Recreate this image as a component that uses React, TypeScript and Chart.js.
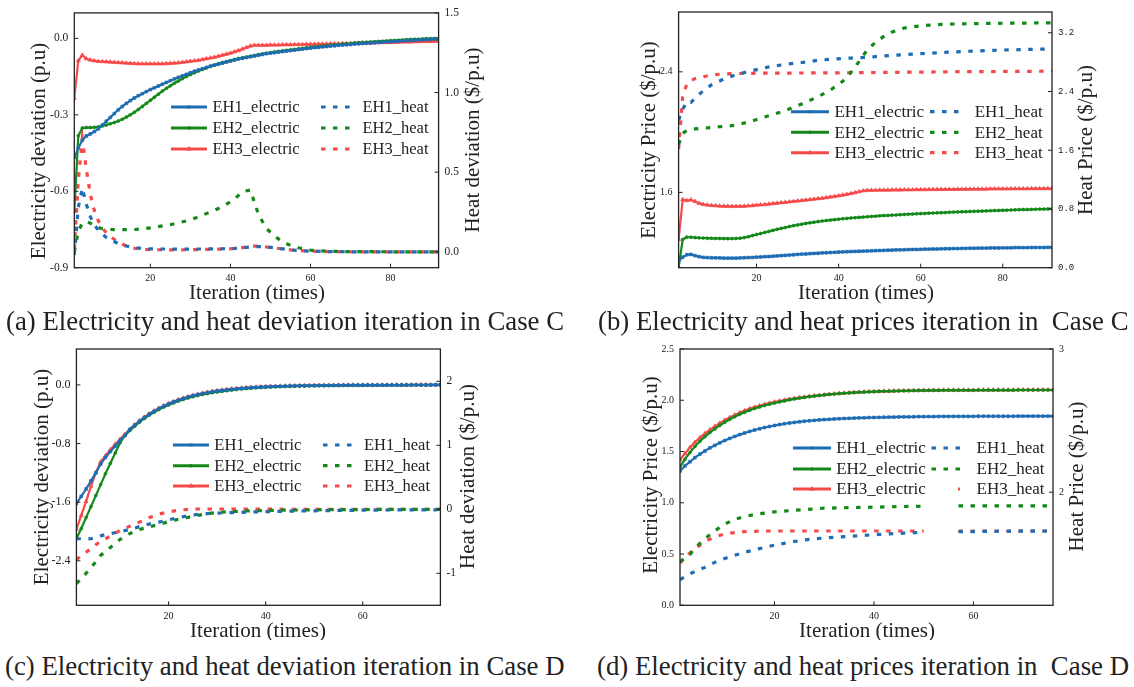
import React, { useEffect, useRef } from 'react';
import { Chart, registerables } from 'chart.js';
Chart.register(...registerables);

// ---------------- categories / ticks ----------------
const ITER_92 = Array.from({ length: 92 }, (_, i) => i + 1);
const ITER_76 = Array.from({ length: 76 }, (_, i) => i + 1);
const X_TICKS_92 = [20, 40, 60, 80];
const X_TICKS_76 = [20, 40, 60];

const A_LEFT_TICKS = [-0.9, -0.6, -0.3, 0.0];
const A_RIGHT_TICKS = [0.0, 0.5, 1.0, 1.5];
const B_LEFT_TICKS = [1.6, 2.4];
const B_RIGHT_TICKS = [0.0, 0.8, 1.6, 2.4, 3.2];
const C_LEFT_TICKS = [-2.4, -1.6, -0.8, 0.0];
const C_RIGHT_TICKS = [-1, 0, 1, 2];
const D_LEFT_TICKS = [0.0, 0.5, 1.0, 1.5, 2.0, 2.5];
const D_RIGHT_TICKS = [2, 3];

const SERIES_NAMES = ['EH1_electric', 'EH2_electric', 'EH3_electric', 'EH1_heat', 'EH2_heat', 'EH3_heat'];

// ---------------- (a) Case C deviation ----------------
const A_EH1_ELEC = [-0.468,-0.43,-0.40,-0.383,-0.375,-0.366,-0.355,-0.34,-0.325,-0.31,
-0.295,-0.28,-0.267,-0.255,-0.244,-0.234,-0.225,-0.217,-0.209,-0.201,
-0.194,-0.187,-0.18,-0.173,-0.166,-0.159,-0.153,-0.147,-0.141,-0.135,
-0.129,-0.124,-0.119,-0.114,-0.109,-0.105,-0.101,-0.097,-0.093,-0.089,
-0.085,-0.081,-0.078,-0.075,-0.072,-0.069,-0.066,-0.063,-0.06,-0.058,
-0.056,-0.054,-0.052,-0.05,-0.048,-0.046,-0.044,-0.042,-0.04,-0.038,
-0.036,-0.035,-0.033,-0.032,-0.03,-0.029,-0.027,-0.026,-0.025,-0.024,
-0.022,-0.021,-0.02,-0.019,-0.018,-0.017,-0.016,-0.015,-0.014,-0.013,
-0.012,-0.011,-0.01,-0.009,-0.008,-0.007,-0.006,-0.006,-0.005,-0.004,
-0.003,-0.003];
const A_EH2_ELEC = [-0.68,-0.382,-0.352,-0.35,-0.35,-0.349,-0.347,-0.344,-0.34,-0.335,
-0.33,-0.324,-0.317,-0.309,-0.3,-0.29,-0.279,-0.267,-0.255,-0.243,
-0.231,-0.219,-0.207,-0.196,-0.186,-0.176,-0.167,-0.158,-0.15,-0.142,
-0.135,-0.128,-0.122,-0.116,-0.11,-0.105,-0.1,-0.095,-0.091,-0.087,
-0.083,-0.079,-0.076,-0.073,-0.07,-0.067,-0.064,-0.061,-0.058,-0.056,
-0.053,-0.051,-0.049,-0.047,-0.045,-0.043,-0.041,-0.039,-0.037,-0.035,
-0.033,-0.032,-0.03,-0.028,-0.027,-0.025,-0.024,-0.022,-0.021,-0.02,
-0.018,-0.017,-0.016,-0.015,-0.014,-0.013,-0.012,-0.011,-0.01,-0.009,
-0.008,-0.007,-0.006,-0.005,-0.004,-0.003,-0.003,-0.002,-0.001,-0.001,
0.0,0.0];
const A_EH3_ELEC = [-0.235,-0.087,-0.066,-0.08,-0.085,-0.088,-0.09,-0.091,-0.092,-0.093,
-0.094,-0.095,-0.096,-0.097,-0.098,-0.099,-0.1,-0.1,-0.1,-0.1,
-0.1,-0.1,-0.1,-0.099,-0.098,-0.097,-0.096,-0.094,-0.092,-0.09,
-0.088,-0.086,-0.083,-0.08,-0.077,-0.074,-0.07,-0.066,-0.062,-0.058,
-0.053,-0.048,-0.042,-0.036,-0.03,-0.027,-0.027,-0.027,-0.027,-0.026,
-0.026,-0.026,-0.025,-0.025,-0.025,-0.024,-0.024,-0.024,-0.023,-0.023,
-0.023,-0.022,-0.022,-0.022,-0.021,-0.021,-0.021,-0.02,-0.02,-0.02,
-0.019,-0.019,-0.018,-0.018,-0.018,-0.017,-0.017,-0.016,-0.016,-0.016,
-0.015,-0.015,-0.014,-0.014,-0.014,-0.013,-0.013,-0.012,-0.012,-0.012,
-0.011,-0.011];
const A_HEAT_X = [1,2,3,4,5,6,7,8,9,10,12,14,16,18,20,25,30,35,38,41,43,45,46,47,49,51,53,55,57,60,65,70,80,92];
const A_EH1_HEAT = [-0.02,0.28,0.40,0.30,0.22,0.17,0.135,0.11,0.09,0.075,0.052,0.036,0.026,0.02,0.018,0.017,0.017,0.018,0.019,0.021,0.025,0.03,0.032,0.033,0.03,0.025,0.018,0.012,0.008,0.004,0.001,0.0,0.0,0.0];
const A_EH2_HEAT = [0.0,0.13,0.18,0.19,0.18,0.165,0.152,0.145,0.142,0.14,0.139,0.139,0.14,0.143,0.15,0.17,0.2,0.25,0.283,0.33,0.378,0.388,0.31,0.235,0.145,0.1,0.062,0.04,0.025,0.01,0.003,0.001,0.0,0.0];
const A_EH3_HEAT = [0.02,0.45,0.71,0.52,0.36,0.26,0.195,0.15,0.12,0.095,0.06,0.036,0.022,0.015,0.013,0.012,0.013,0.015,0.017,0.02,0.026,0.033,0.036,0.035,0.03,0.024,0.018,0.012,0.008,0.004,0.001,0.0,0.0,0.0];

// ---------------- (b) Case C prices ----------------
const B_EH1_ELEC = [1.144,1.17,1.186,1.188,1.18,1.173,1.169,1.167,1.166,1.165,
1.165,1.164,1.164,1.164,1.164,1.165,1.166,1.167,1.168,1.17,
1.171,1.173,1.174,1.176,1.178,1.18,1.182,1.184,1.186,1.188,
1.19,1.191,1.193,1.195,1.196,1.198,1.199,1.201,1.202,1.204,
1.205,1.206,1.207,1.208,1.209,1.21,1.211,1.212,1.213,1.214,
1.215,1.216,1.217,1.218,1.218,1.219,1.22,1.221,1.221,1.222,
1.223,1.223,1.224,1.224,1.225,1.226,1.226,1.227,1.227,1.228,
1.228,1.229,1.229,1.23,1.23,1.23,1.231,1.231,1.231,1.232,
1.232,1.232,1.233,1.233,1.233,1.233,1.234,1.234,1.234,1.234,
1.235,1.235];
const B_EH2_ELEC = [1.10,1.287,1.303,1.302,1.3,1.298,1.297,1.296,1.295,1.294,
1.294,1.293,1.293,1.293,1.294,1.296,1.3,1.306,1.313,1.32,
1.327,1.334,1.341,1.348,1.355,1.361,1.367,1.373,1.379,1.384,
1.389,1.394,1.398,1.402,1.406,1.41,1.413,1.416,1.419,1.422,
1.425,1.427,1.43,1.432,1.434,1.436,1.438,1.44,1.442,1.444,
1.446,1.447,1.449,1.45,1.452,1.453,1.455,1.456,1.458,1.459,
1.46,1.462,1.463,1.464,1.465,1.466,1.468,1.469,1.47,1.471,
1.472,1.473,1.474,1.475,1.476,1.477,1.478,1.479,1.48,1.481,
1.482,1.483,1.484,1.485,1.486,1.486,1.487,1.488,1.489,1.489,
1.49,1.49];
const B_EH3_ELEC = [1.287,1.552,1.545,1.55,1.54,1.527,1.52,1.516,1.513,1.511,
1.509,1.508,1.507,1.507,1.507,1.507,1.508,1.51,1.512,1.515,
1.517,1.519,1.522,1.525,1.528,1.531,1.534,1.537,1.54,1.543,
1.546,1.549,1.552,1.555,1.558,1.561,1.565,1.569,1.573,1.577,
1.582,1.587,1.592,1.598,1.604,1.61,1.613,1.614,1.614,1.615,
1.615,1.615,1.616,1.616,1.616,1.617,1.617,1.617,1.618,1.618,
1.618,1.619,1.619,1.619,1.62,1.62,1.62,1.62,1.621,1.621,
1.621,1.621,1.622,1.622,1.622,1.622,1.623,1.623,1.623,1.623,
1.623,1.624,1.624,1.624,1.624,1.624,1.625,1.625,1.625,1.625,
1.625,1.625];
const B_HEAT_X = [1,2,3,4,5,7,9,12,15,19,23,27,31,35,38,41,43,45,47,49,51,53,56,60,65,70,80,92];
const B_EH1_HEAT = [2.01,2.16,2.26,2.25,2.31,2.41,2.49,2.57,2.63,2.685,2.735,2.77,2.795,2.825,2.84,2.85,2.855,2.86,2.868,2.876,2.884,2.892,2.903,2.915,2.93,2.945,2.965,2.98];
const B_EH2_HEAT = [1.68,1.83,1.87,1.885,1.89,1.9,1.91,1.925,1.94,2.0,2.07,2.14,2.23,2.33,2.42,2.54,2.66,2.81,2.97,3.07,3.15,3.21,3.265,3.295,3.315,3.322,3.33,3.335];
const B_EH3_HEAT = [1.62,2.33,2.5,2.55,2.575,2.6,2.625,2.64,2.645,2.648,2.65,2.651,2.652,2.653,2.654,2.655,2.656,2.657,2.658,2.659,2.66,2.661,2.663,2.665,2.667,2.67,2.673,2.677];

// ---------------- (c) Case D deviation ----------------
const C_EH1_ELEC = [-1.62,-1.52,-1.42,-1.31,-1.2,-1.08,-0.99,-0.91,-0.835,-0.76,-0.69,
-0.61,-0.55,-0.495,-0.445,-0.40,-0.36,-0.323,-0.29,-0.26,-0.233,-0.208,-0.186,-0.166,-0.148,-0.132,-0.118,-0.105,-0.093,-0.083,
-0.075,-0.067,-0.06,-0.053,-0.047,-0.042,-0.037,-0.033,-0.029,-0.026,
-0.023,-0.021,-0.019,-0.017,-0.015,-0.013,-0.012,-0.011,-0.01,-0.009,
-0.008,-0.007,-0.006,-0.006,-0.005,-0.005,-0.004,-0.004,-0.004,-0.003,
-0.003,-0.003,-0.003,-0.002,-0.002,-0.002,-0.002,-0.002,-0.001,-0.001,
-0.001,-0.001,-0.001,0,0,0];
const C_EH2_ELEC = [-2.1,-1.96,-1.81,-1.66,-1.51,-1.36,-1.21,-1.07,-0.93,-0.79,-0.69,
-0.623,-0.563,-0.508,-0.458,-0.413,-0.373,-0.336,-0.303,-0.273,-0.246,-0.221,-0.199,-0.179,-0.161,-0.145,-0.131,-0.118,-0.106,-0.096,
-0.087,-0.078,-0.07,-0.063,-0.056,-0.05,-0.045,-0.04,-0.036,-0.032,
-0.029,-0.026,-0.023,-0.021,-0.019,-0.017,-0.015,-0.014,-0.013,-0.012,
-0.011,-0.01,-0.009,-0.008,-0.007,-0.007,-0.006,-0.006,-0.005,-0.005,
-0.004,-0.004,-0.004,-0.003,-0.003,-0.003,-0.002,-0.002,-0.002,-0.002,
-0.001,-0.001,-0.001,-0.001,0,0];
const C_EH3_ELEC = [-1.97,-1.78,-1.59,-1.38,-1.2,-1.05,-0.965,-0.885,-0.81,-0.74,-0.675,
-0.605,-0.545,-0.49,-0.44,-0.395,-0.355,-0.318,-0.285,-0.255,-0.228,-0.203,-0.181,-0.161,-0.143,-0.127,-0.113,-0.1,-0.088,-0.078,
-0.07,-0.062,-0.055,-0.049,-0.043,-0.038,-0.034,-0.03,-0.027,-0.024,
-0.021,-0.019,-0.017,-0.015,-0.013,-0.012,-0.011,-0.01,-0.009,-0.008,
-0.007,-0.006,-0.006,-0.005,-0.005,-0.004,-0.004,-0.003,-0.003,-0.003,
-0.002,-0.002,-0.002,-0.002,-0.001,-0.001,-0.001,-0.001,-0.001,0,
0,0,0,0,0,0];
const C_HEAT_X = [1,2,3,4,5,6,7,8,10,12,14,16,18,20,22,24,26,28,30,33,36,40,45,50,55,60,65,70,76];
const C_EH1_HEAT = [-0.46,-0.46,-0.465,-0.46,-0.44,-0.415,-0.395,-0.38,-0.35,-0.315,-0.27,-0.23,-0.2,-0.165,-0.13,-0.1,-0.08,-0.068,-0.06,-0.052,-0.045,-0.036,-0.029,-0.023,-0.018,-0.014,-0.011,-0.009,-0.007];
const C_EH2_HEAT = [-1.16,-1.08,-1.0,-0.91,-0.82,-0.72,-0.655,-0.595,-0.47,-0.38,-0.315,-0.275,-0.237,-0.192,-0.155,-0.125,-0.095,-0.068,-0.05,-0.035,-0.025,-0.018,-0.012,-0.008,-0.005,-0.003,-0.002,-0.001,0.0];
const C_EH3_HEAT = [-0.79,-0.72,-0.67,-0.62,-0.555,-0.5,-0.46,-0.42,-0.33,-0.265,-0.2,-0.13,-0.075,-0.04,-0.015,0.0,0.005,0.005,0.005,0.004,0.003,0.002,0.001,0.0,0.0,0.0,0.0,0.0,0.0];

// ---------------- (d) Case D prices ----------------
const D_EH1_ELEC = [1.31,1.36,1.4,1.44,1.475,1.505,1.535,1.56,1.585,1.607,
1.628,1.647,1.665,1.681,1.696,1.71,1.722,1.734,1.744,1.754,
1.763,1.771,1.778,1.784,1.79,1.795,1.8,1.804,1.808,1.811,
1.814,1.817,1.82,1.822,1.824,1.826,1.828,1.829,1.831,1.832,
1.833,1.834,1.835,1.836,1.837,1.838,1.838,1.839,1.84,1.84,
1.841,1.841,1.842,1.842,1.842,1.843,1.843,1.843,1.843,1.843,
1.844,1.844,1.844,1.844,1.844,1.844,1.844,1.844,1.845,1.845,
1.845,1.845,1.845,1.845,1.845,1.845];
const D_EH2_ELEC = [1.35,1.425,1.49,1.55,1.6,1.645,1.685,1.72,1.755,1.786,
1.814,1.84,1.863,1.884,1.903,1.92,1.935,1.949,1.962,1.973,
1.984,1.994,2.004,2.013,2.021,2.028,2.035,2.041,2.047,2.052,
2.057,2.061,2.065,2.069,2.072,2.075,2.078,2.08,2.082,2.084,
2.086,2.088,2.089,2.09,2.091,2.092,2.093,2.094,2.095,2.096,
2.096,2.097,2.097,2.098,2.098,2.098,2.098,2.098,2.098,2.098,
2.099,2.099,2.099,2.099,2.099,2.099,2.099,2.099,2.1,2.1,
2.1,2.1,2.1,2.1,2.1,2.1];
const D_EH3_ELEC = [1.42,1.48,1.54,1.59,1.635,1.675,1.712,1.745,1.777,1.806,
1.833,1.857,1.879,1.899,1.917,1.933,1.947,1.96,1.972,1.983,
1.993,2.002,2.011,2.019,2.026,2.032,2.038,2.043,2.048,2.053,
2.058,2.062,2.066,2.07,2.073,2.076,2.079,2.081,2.083,2.085,
2.087,2.089,2.09,2.091,2.092,2.093,2.094,2.095,2.096,2.097,
2.097,2.098,2.098,2.099,2.099,2.099,2.099,2.099,2.099,2.099,
2.1,2.1,2.1,2.1,2.1,2.1,2.1,2.1,2.101,2.101,
2.101,2.101,2.101,2.101,2.101,2.101];
const D_HEAT_X = [1,2,3,4,6,8,10,12,14,17,20,23,26,30,35,41,46,50,53,57,65,70,76];
const D_EH1_HEAT = [1.39,1.41,1.43,1.445,1.475,1.51,1.537,1.56,1.58,1.606,1.63,1.65,1.667,1.68,1.692,1.705,1.714,1.72,null,1.724,1.727,1.728,1.729];
const D_EH2_HEAT = [1.515,1.54,1.565,1.61,1.675,1.73,1.778,1.81,1.83,1.85,1.862,1.871,1.878,1.888,1.892,1.896,1.9,1.902,null,1.904,1.905,1.905,1.905];
const D_EH3_HEAT = [1.504,1.545,1.575,1.605,1.655,1.688,1.708,1.718,1.725,1.728,1.729,1.729,1.729,1.729,1.729,1.729,1.729,1.729,null,1.729,1.729,1.729,1.729];

const CAPTIONS = [
  '(a) Electricity and heat deviation iteration in Case C',
  '(b) Electricity and heat prices iteration in  Case C',
  '(c) Electricity and heat deviation iteration in Case D',
  '(d) Electricity and heat prices iteration in  Case D',
];

// ---------------- styling ----------------
const SERIF = '"Liberation Serif", "Times New Roman", serif';
const MONO = '"Liberation Mono", "DejaVu Sans Mono", monospace';
const BLUE = '#1f6db4';
const GREEN = '#14891a';
const RED = '#f54a4a';
const COLORS = [BLUE, GREEN, RED];
const STYLES = ['rect', 'circle', 'triangle'];
const HEAT_DASH = [4.5, 7.5];
const TEXT = '#222';

function elecDs(i: number, xs: number[], ys: number[]) {
  const st = STYLES[i];
  return {
    label: SERIES_NAMES[i],
    data: ys.map((y, k) => ({ x: xs[k], y })),
    yAxisID: 'y',
    borderColor: COLORS[i],
    backgroundColor: COLORS[i],
    borderWidth: 2.2,
    pointStyle: st,
    pointRadius: st === 'triangle' ? 2.4 : st === 'rect' ? 2 : 1.5,
    pointBorderWidth: 0.6,
    pointBackgroundColor: COLORS[i],
    pointBorderColor: COLORS[i],
    tension: 0,
  };
}
function heatDs(i: number, xs: number[], ys: (number | null)[]) {
  return {
    label: SERIES_NAMES[i + 3],
    data: ys.map((y, k) => ({ x: xs[k], y })),
    yAxisID: 'y1',
    borderColor: COLORS[i],
    backgroundColor: COLORS[i],
    borderWidth: 3.2,
    borderDash: HEAT_DASH,
    pointRadius: 0,
    spanGaps: false,
    tension: 0,
  };
}

const f1 = (v: number) => v.toFixed(1);
const fInt = (v: number) => String(Math.round(v));

const PANELS: any[] = [
  {
    X: 0, Y: 0, W: 567, H: 305, L: 74.3, T: 11.7, R: 128.4, B: 37.3,
    xMin: 1, xMax: 92, xTicks: X_TICKS_92,
    yl: { min: -0.9, max: 0.1, ticks: A_LEFT_TICKS, fmt: f1, font: SERIF, size: 11.5 },
    yr: { min: -0.1, max: 1.5, ticks: A_RIGHT_TICKS, fmt: f1, font: SERIF, size: 11.5 },
    titles: { left: ['Electricity deviation (p.u)', 39, 151], right: ['Heat deviation ($/p.u)', 473, 140], bottom: ['Iteration (times)', 257, 293] },
    legend: { rows: [107, 128, 149], eX0: 171, eX1: 207, eTx: 212.5, hX0: 321, hX1: 352, hTx: 362.5, size: 16.5, partial: -1 },
    datasets: [
      elecDs(0, ITER_92, A_EH1_ELEC), elecDs(1, ITER_92, A_EH2_ELEC), elecDs(2, ITER_92, A_EH3_ELEC),
      heatDs(0, A_HEAT_X, A_EH1_HEAT), heatDs(1, A_HEAT_X, A_EH2_HEAT), heatDs(2, A_HEAT_X, A_EH3_HEAT),
    ],
  },
  {
    X: 567, Y: 0, W: 567, H: 305, L: 111.6, T: 11.7, R: 82, B: 37.3,
    xMin: 1, xMax: 92, xTicks: X_TICKS_92,
    yl: { min: 1.1, max: 2.797, ticks: B_LEFT_TICKS, fmt: f1, font: SERIF, size: 10 },
    yr: { min: 0, max: 3.483, ticks: B_RIGHT_TICKS, fmt: f1, font: MONO, size: 9 },
    titles: { left: ['Electricity Price ($/p.u)', 82, 140], right: ['Heat Price ($/p.u)', 519, 140], bottom: ['Iteration (times)', 299, 293] },
    legend: { rows: [111.7, 132.3, 152.7], eX0: 224, eX1: 262, eTx: 267.4, hX0: 363, hX1: 395, hTx: 407.7, size: 17, partial: -1 },
    datasets: [
      elecDs(0, ITER_92, B_EH1_ELEC), elecDs(1, ITER_92, B_EH2_ELEC), elecDs(2, ITER_92, B_EH3_ELEC),
      heatDs(0, B_HEAT_X, B_EH1_HEAT), heatDs(1, B_HEAT_X, B_EH2_HEAT), heatDs(2, B_HEAT_X, B_EH3_HEAT),
    ],
  },
  {
    X: 0, Y: 330, W: 567, H: 310, L: 76.4, T: 19, R: 126.6, B: 34.7,
    xMin: 1, xMax: 76, xTicks: X_TICKS_76,
    yl: { min: -3.007, max: 0.49, ticks: C_LEFT_TICKS, fmt: f1, font: SERIF, size: 12 },
    yr: { min: -1.5, max: 2.505, ticks: C_RIGHT_TICKS, fmt: fInt, font: SERIF, size: 11.5 },
    titles: { left: ['Electricity deviation (p.u)', 42, 147], right: ['Heat deviation ($/p.u)', 468, 146.5], bottom: ['Iteration (times)', 258, 301.7] },
    legend: { rows: [115, 135.7, 156], eX0: 173, eX1: 209, eTx: 214.3, hX0: 323, hX1: 352, hTx: 364, size: 16.5, partial: -1 },
    datasets: [
      elecDs(0, ITER_76, C_EH1_ELEC), elecDs(1, ITER_76, C_EH2_ELEC), elecDs(2, ITER_76, C_EH3_ELEC),
      heatDs(0, C_HEAT_X, C_EH1_HEAT), heatDs(1, C_HEAT_X, C_EH2_HEAT), heatDs(2, C_HEAT_X, C_EH3_HEAT),
    ],
  },
  {
    X: 567, Y: 330, W: 567, H: 310, L: 113, T: 19, R: 81, B: 34.7,
    xMin: 1, xMax: 76, xTicks: X_TICKS_76,
    yl: { min: 0, max: 2.5, ticks: D_LEFT_TICKS, fmt: f1, font: SERIF, size: 10 },
    yr: { min: 1.21, max: 3.0, ticks: D_RIGHT_TICKS, fmt: fInt, font: SERIF, size: 10 },
    titles: { left: ['Electricity Price ($/p.u)', 84, 145], right: ['Heat Price ($/p.u)', 510, 146.5], bottom: ['Iteration (times)', 300, 301.7] },
    legend: { rows: [118, 139, 159], eX0: 226, eX1: 264, eTx: 269.2, hX0: 364.5, hX1: 397, hTx: 409.5, size: 17, partial: 2 },
    datasets: [
      elecDs(0, ITER_76, D_EH1_ELEC), elecDs(1, ITER_76, D_EH2_ELEC), elecDs(2, ITER_76, D_EH3_ELEC),
      heatDs(0, D_HEAT_X, D_EH1_HEAT), heatDs(1, D_HEAT_X, D_EH2_HEAT), heatDs(2, D_HEAT_X, D_EH3_HEAT),
    ],
  },
];

function drawMarker(ctx: CanvasRenderingContext2D, style: string, x: number, y: number) {
  ctx.beginPath();
  if (style === 'rect') ctx.rect(x - 1.5, y - 1.5, 3, 3);
  else if (style === 'triangle') { ctx.moveTo(x, y - 3); ctx.lineTo(x + 2.6, y + 1.6); ctx.lineTo(x - 2.6, y + 1.6); ctx.closePath(); }
  else ctx.arc(x, y, 1.8, 0, Math.PI * 2);
  ctx.fill();
}

function makeDeco(spec: any) {
  return {
    id: 'panelDeco',
    afterDraw(chart: any) {
      const { ctx, chartArea: ca, scales } = chart;
      ctx.save();
      // frame
      ctx.strokeStyle = TEXT;
      ctx.lineWidth = 1.3;
      ctx.setLineDash([]);
      ctx.strokeRect(ca.left, ca.top, ca.right - ca.left, ca.bottom - ca.top);
      // inward ticks
      const tl = 4;
      ctx.lineWidth = 1;
      ctx.beginPath();
      for (const t of scales.x.ticks) { const p = scales.x.getPixelForValue(t.value); ctx.moveTo(p, ca.bottom); ctx.lineTo(p, ca.bottom - tl); }
      for (const t of scales.y.ticks) { const p = scales.y.getPixelForValue(t.value); ctx.moveTo(ca.left, p); ctx.lineTo(ca.left + tl, p); }
      for (const t of scales.y1.ticks) { const p = scales.y1.getPixelForValue(t.value); ctx.moveTo(ca.right, p); ctx.lineTo(ca.right - tl, p); }
      ctx.stroke();
      // axis titles
      ctx.fillStyle = TEXT;
      ctx.font = `21px ${SERIF}`;
      ctx.textAlign = 'center';
      ctx.textBaseline = 'middle';
      const tt = spec.titles;
      for (const key of ['left', 'right']) {
        const [txt, x, y] = tt[key];
        ctx.save(); ctx.translate(x, y); ctx.rotate(-Math.PI / 2); ctx.fillText(txt, 0, 0); ctx.restore();
      }
      ctx.fillText(tt.bottom[0], tt.bottom[1], tt.bottom[2]);
      // legend
      const lg = spec.legend;
      const ds = chart.data.datasets;
      ctx.font = `${lg.size}px ${SERIF}`;
      ctx.textAlign = 'left';
      for (let i = 0; i < 3; i++) {
        const y = lg.rows[i];
        const c = ds[i].borderColor;
        ctx.strokeStyle = c; ctx.fillStyle = c; ctx.lineWidth = 3; ctx.setLineDash([]);
        ctx.beginPath(); ctx.moveTo(lg.eX0, y); ctx.lineTo(lg.eX1, y); ctx.stroke();
        drawMarker(ctx, ds[i].pointStyle, (lg.eX0 + lg.eX1) / 2, y);
        ctx.fillStyle = TEXT;
        ctx.fillText(ds[i].label, lg.eTx, y + 1);
        const h = ds[i + 3];
        ctx.save();
        if (lg.partial === i) { ctx.beginPath(); ctx.rect(lg.hX1 - 6, y - 6, 12, 12); ctx.clip(); }
        ctx.strokeStyle = h.borderColor; ctx.lineWidth = 3.2; ctx.setLineDash(HEAT_DASH);
        ctx.beginPath(); ctx.moveTo(lg.hX0, y); ctx.lineTo(lg.hX1, y); ctx.stroke();
        ctx.restore();
        ctx.fillStyle = TEXT;
        ctx.fillText(h.label, lg.hTx, y + 1);
      }
      ctx.restore();
    },
  };
}

function axisOpts(a: any, position: string, width: number) {
  return {
    type: 'linear',
    position,
    min: a.min,
    max: a.max,
    grid: { display: false, drawTicks: false },
    border: { display: false },
    afterBuildTicks: (s: any) => { s.ticks = a.ticks.map((v: number) => ({ value: v })); },
    afterFit: (s: any) => { s.width = width; },
    ticks: {
      font: { family: a.font, size: a.size },
      color: TEXT,
      padding: 6,
      autoSkip: false,
      callback: (v: any) => a.fmt(Number(v)),
    },
  };
}

function buildChart(canvas: HTMLCanvasElement, spec: any) {
  return new Chart(canvas, {
    type: 'line',
    data: { datasets: spec.datasets },
    options: {
      animation: false,
      responsive: false,
      maintainAspectRatio: false,
      events: [],
      layout: { padding: { top: spec.T, left: 0, right: 0, bottom: 0 } },
      plugins: { legend: { display: false }, tooltip: { enabled: false }, title: { display: false } },
      scales: {
        x: {
          type: 'linear',
          min: spec.xMin,
          max: spec.xMax,
          grid: { display: false, drawTicks: false },
          border: { display: false },
          afterBuildTicks: (s: any) => { s.ticks = spec.xTicks.map((v: number) => ({ value: v })); },
          afterFit: (s: any) => { s.height = spec.B; },
          ticks: { font: { family: SERIF, size: 10 }, color: TEXT, padding: 5, maxRotation: 0, autoSkip: false, callback: (v: any) => String(v) },
        },
        y: axisOpts(spec.yl, 'left', spec.L),
        y1: axisOpts(spec.yr, 'right', spec.R),
      },
    } as any,
    plugins: [makeDeco(spec)],
  });
}

const CAPTION_POS = [
  { left: 6, top: 306 },
  { left: 598, top: 306 },
  { left: 5, top: 651 },
  { left: 597, top: 651 },
];

export default function App() {
  const r0 = useRef<HTMLCanvasElement>(null);
  const r1 = useRef<HTMLCanvasElement>(null);
  const r2 = useRef<HTMLCanvasElement>(null);
  const r3 = useRef<HTMLCanvasElement>(null);
  const refs = [r0, r1, r2, r3];
  useEffect(() => {
    const charts = PANELS.map((p, i) => buildChart(refs[i].current as HTMLCanvasElement, p));
    return () => charts.forEach((c) => c.destroy());
  }, []);
  return (
    <div style={{ position: 'fixed', left: 0, top: 0, width: 1134, height: 687, background: '#fff', overflow: 'hidden' }}>
      {PANELS.map((p, i) => (
        <canvas key={i} ref={refs[i]} width={p.W} height={p.H}
          style={{ position: 'absolute', left: p.X, top: p.Y, width: p.W, height: p.H }} />
      ))}
      {CAPTIONS.map((c, i) => (
        <div key={'c' + i} style={{
          position: 'absolute', left: CAPTION_POS[i].left, top: CAPTION_POS[i].top,
          fontFamily: SERIF, fontSize: 26.8, lineHeight: '30px', color: TEXT, whiteSpace: 'pre',
        }}>{c}</div>
      ))}
    </div>
  );
}
